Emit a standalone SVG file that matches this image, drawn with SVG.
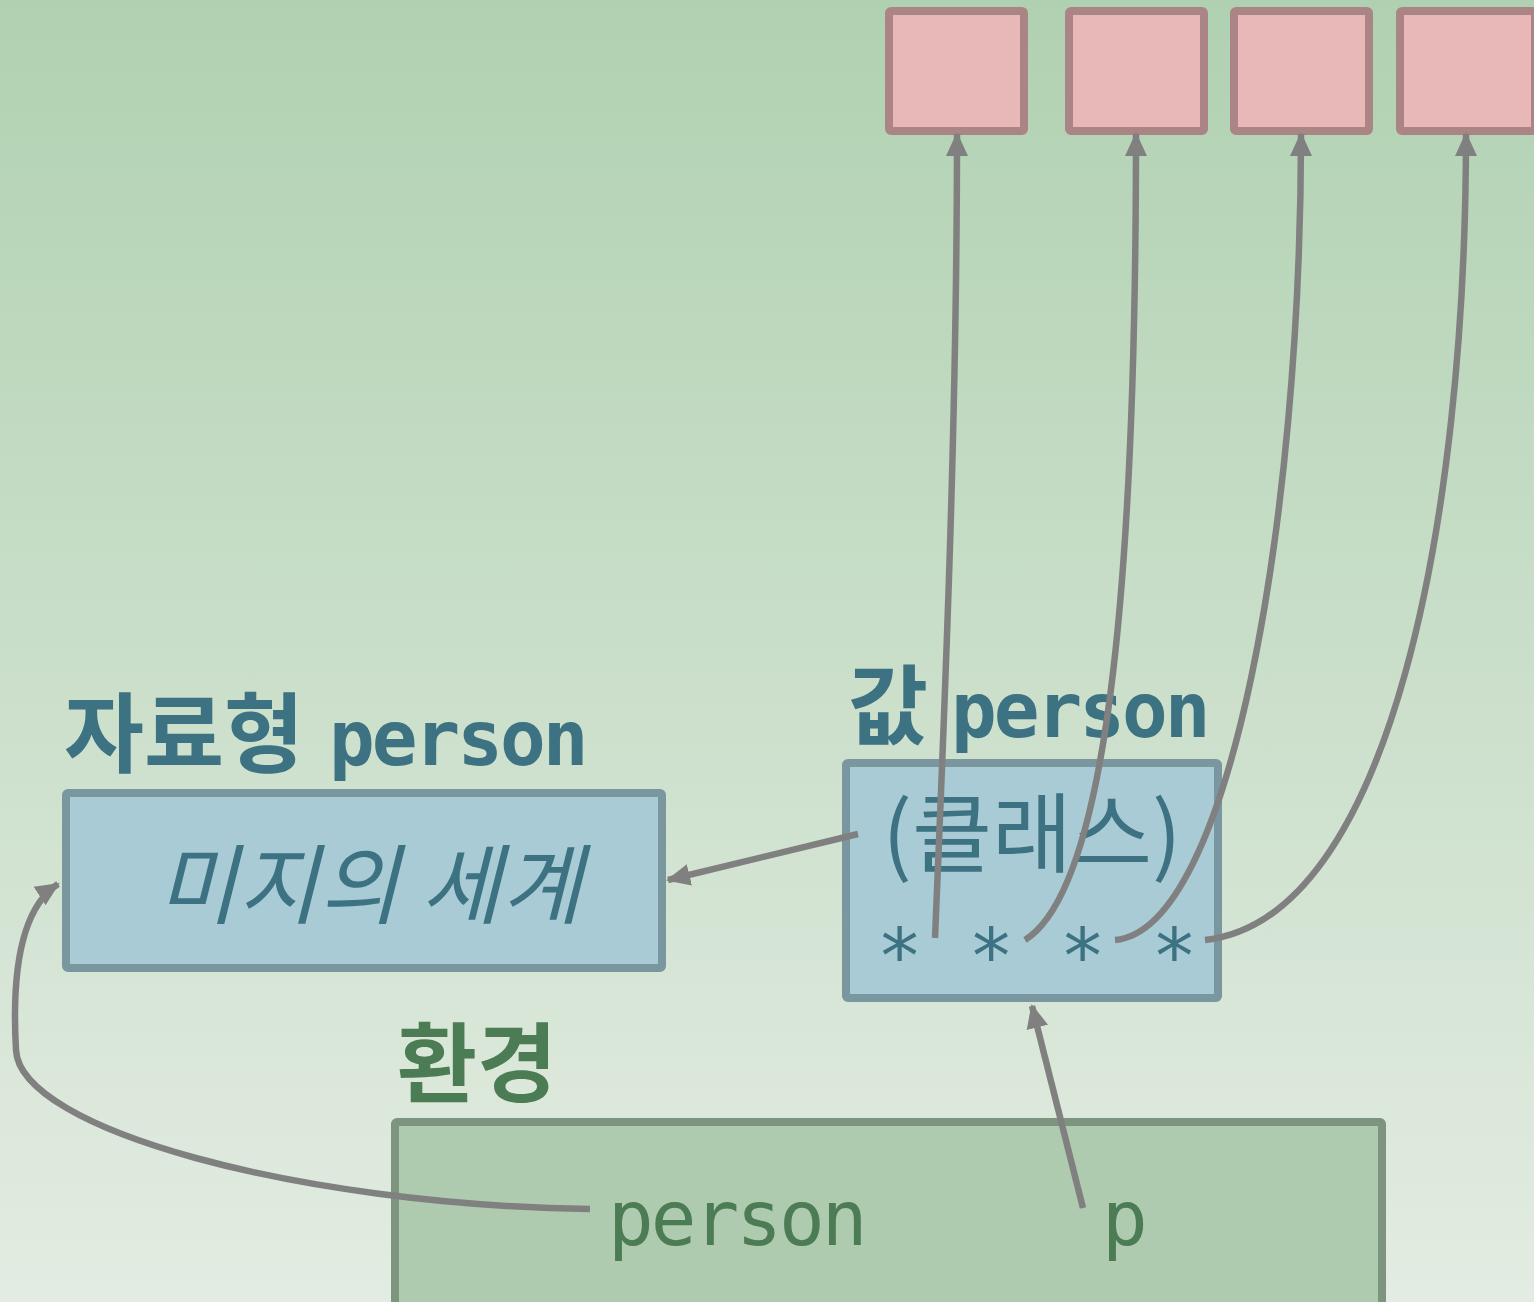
<svg xmlns="http://www.w3.org/2000/svg" width="1534" height="1302" viewBox="0 0 1534 1302">
<defs>
<linearGradient id="bg" x1="0" y1="0" x2="0" y2="1">
<stop offset="0" stop-color="#b0d1b1"/>
<stop offset="1" stop-color="#e3ece2"/>
</linearGradient>
<marker id="ah" viewBox="0 0 24 24" markerWidth="24" markerHeight="24" refX="22" refY="12" orient="auto" markerUnits="userSpaceOnUse">
<path d="M0,1 L24,12 L0,23 z" fill="#808080"/>
</marker>
<style>
.t{font-family:"DejaVu Sans Mono","Noto Sans CJK KR",monospace;font-size:76px;letter-spacing:-3px}
.k{font-family:"Noto Sans CJK KR",sans-serif;font-size:87px;letter-spacing:0}
.b{font-weight:bold}
.blue{fill:#3d7282}
.green{fill:#4c7c53}
.pink{fill:#e8b7b7;stroke:#ab8585;stroke-width:8}
.vb{fill:#a8cbd5;stroke:#7a979f;stroke-width:8}
.eb{fill:#aecbaf;stroke:#7d957e;stroke-width:8}
.c{fill:none;stroke:#808080;stroke-width:6.5}
</style>
</defs>
<rect x="0" y="0" width="1534" height="1302" fill="url(#bg)"/>
<g id="mem1"><rect class="pink" x="889" y="11" width="135" height="120" rx="2"/></g>
<g id="mem2"><rect class="pink" x="1069" y="11" width="135" height="120" rx="2"/></g>
<g id="mem3"><rect class="pink" x="1234" y="11" width="135" height="120" rx="2"/></g>
<g id="mem4"><rect class="pink" x="1400" y="11" width="135" height="120" rx="2"/></g>
<g id="type">
<text class="k b blue" x="64" y="766">자료형</text>
<text class="t b blue" x="329" y="765">person</text>
<rect class="vb" x="66" y="793" width="596" height="175" rx="2"/>
<text class="k blue" x="370" y="917" text-anchor="middle" font-style="italic" style="letter-spacing:1px">미지의 세계</text>
</g>
<g id="value">
<text class="k b blue" x="848" y="738">값</text>
<text class="t b blue" x="951" y="737">person</text>
<rect class="vb" x="846" y="763" width="372" height="235" rx="2"/>
<text class="k blue" x="1032" y="866" text-anchor="middle">(클래스)</text>
<text class="t blue" x="1037" y="983" text-anchor="middle" style="letter-spacing:0">* * * *</text>
</g>
<g id="env">
<text class="k b green" x="397" y="1096">환경</text>
<rect class="eb" x="395" y="1122" width="987" height="190" rx="2"/>
<text class="t green" x="608" y="1245">person</text>
<text class="t green" x="1102" y="1245">p</text>
</g>
<g id="connectors">
<path class="c" d="M935,938 C945,700 957,420 957,134" marker-end="url(#ah)"/>
<path class="c" d="M1025,940 C1105,890 1136,600 1136,134" marker-end="url(#ah)"/>
<path class="c" d="M1115,940 C1230,930 1301,520 1301,134" marker-end="url(#ah)"/>
<path class="c" d="M1205,940 C1390,920 1466,520 1466,134" marker-end="url(#ah)"/>
<path class="c" d="M858,834 L668,880" marker-end="url(#ah)"/>
<path class="c" d="M1083,1208 L1032,1006" marker-end="url(#ah)"/>
<path class="c" d="M590,1209 C300,1205 20,1130 16,1050 C12,980 18,910 58,884" marker-end="url(#ah)"/>
</g>
</svg>
